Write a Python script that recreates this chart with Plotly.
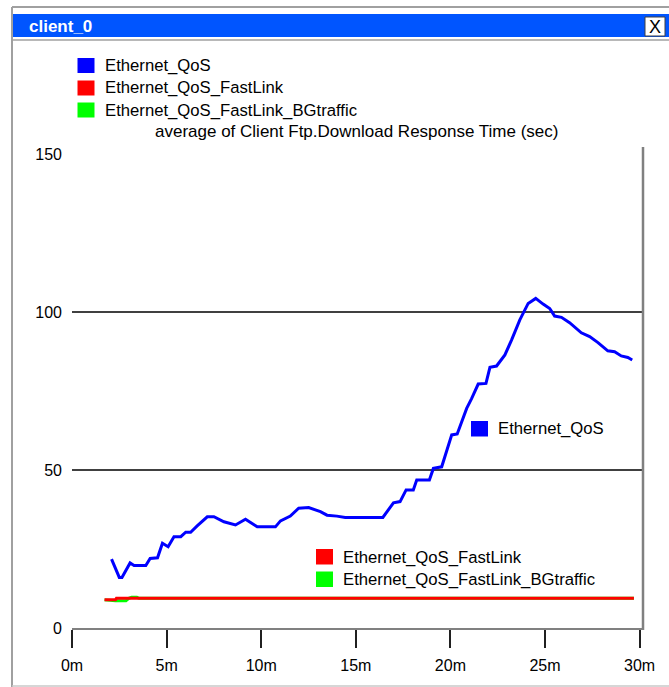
import plotly.graph_objects as go

# ---- data ----
series_names = ["Ethernet_QoS", "Ethernet_QoS_FastLink", "Ethernet_QoS_FastLink_BGtraffic"]
series_colors = ["#0000ff", "#ff0000", "#00ff00"]

qos_min = [2.09, 2.5, 2.64, 3.07, 3.28, 3.9, 4.13, 4.52, 4.78, 5.08, 5.39, 5.75, 6.01,
           6.27, 6.63, 7.15, 7.5, 8.03, 8.64, 9.17, 9.79, 10.75, 11.02, 11.54, 11.98,
           12.51, 13.13, 13.48, 14.0, 14.44, 16.43, 16.99, 17.34, 17.66, 18.04, 18.22,
           18.89, 19.1, 19.54, 19.8, 20.07, 20.36, 20.86, 21.12, 21.47, 21.88, 22.09,
           22.44, 22.88, 23.23, 23.67, 24.11, 24.51, 24.9, 25.25, 25.51, 25.87, 26.3,
           26.92, 27.36, 27.8, 28.32, 28.68, 29.03, 29.38, 29.61]
qos_sec = [21.8, 16.0, 16.0, 20.6, 19.8, 19.8, 22.0, 22.2, 26.8, 25.7, 28.9, 28.9, 30.3,
           30.3, 32.4, 35.2, 35.2, 33.6, 32.6, 34.4, 32.0, 32.0, 33.9, 35.4, 37.9,
           38.1, 36.8, 35.7, 35.4, 35.0, 35.0, 39.6, 40.0, 43.7, 43.7, 46.8,
           46.8, 50.5, 51.0, 56.3, 61.1, 61.4, 69.5, 72.6, 77.2, 77.4, 82.5,
           82.9, 86.4, 91.1, 97.5, 102.7, 104.3, 102.5, 101.1, 98.7, 98.3, 96.6,
           93.4, 92.2, 90.3, 87.7, 87.4, 86.1, 85.6, 84.8]

fast_min = [1.72, 2.3, 2.35, 29.7]
fast_sec = [8.9, 8.9, 9.4, 9.4]

bg_min = [1.72, 2.3, 2.85, 3.0, 3.15, 3.43, 3.55, 29.7]
bg_sec = [8.9, 8.6, 8.6, 9.4, 9.7, 9.7, 9.4, 9.4]

x_tickvals = [0, 5, 10, 15, 20, 25, 30]
x_ticktext = ["0m", "5m", "10m", "15m", "20m", "25m", "30m"]
y_tickvals = [0, 50, 100, 150]
grid_vals = [50, 100]

title_text = "average of Client Ftp.Download Response Time (sec)"
window_title = "client_0"

# ---- geometry (pixels) ----
W, H = 669, 687
ML, MR, MT, MB = 72, 26, 147, 59
PW, PH = W - ML - MR, H - MT - MB
FONT = "Liberation Sans, Arial, sans-serif"
LABEL_SIZE = 16.7


def px(x):
    return (x - ML) / PW


def py(y):
    return (H - MB - y) / PH


fig = go.Figure()

# draw order: blue, green, red (red sits on top of green)
fig.add_trace(go.Scatter(x=qos_min, y=qos_sec, mode="lines", name=series_names[0],
                         line=dict(color=series_colors[0], width=3)))
fig.add_trace(go.Scatter(x=bg_min, y=bg_sec, mode="lines", name=series_names[2],
                         line=dict(color=series_colors[2], width=3)))
fig.add_trace(go.Scatter(x=fast_min, y=fast_sec, mode="lines", name=series_names[1],
                         line=dict(color=series_colors[1], width=3)))

shapes = []
annotations = []

# horizontal grid lines
for g in grid_vals:
    shapes.append(dict(type="line", xref="paper", yref="y", x0=0, x1=1, y0=g, y1=g,
                       line=dict(color="#000000", width=1.5), layer="below"))

# right frame line of the plot
shapes.append(dict(type="line", xref="paper", yref="paper", x0=1, x1=1, y0=py(630), y1=1,
                   line=dict(color="#808080", width=2.5)))

# window decoration
shapes.append(dict(type="line", xref="paper", yref="paper", x0=px(12), x1=px(669),
                   y0=py(7), y1=py(7), line=dict(color="#a0a0a0", width=2)))
shapes.append(dict(type="line", xref="paper", yref="paper", x0=px(12), x1=px(12),
                   y0=py(7), y1=py(687), line=dict(color="#a0a0a0", width=2)))
shapes.append(dict(type="line", xref="paper", yref="paper", x0=px(12), x1=px(669),
                   y0=py(686), y1=py(686), line=dict(color="#c8c8c8", width=1.5)))
shapes.append(dict(type="rect", xref="paper", yref="paper", x0=px(13), x1=px(669),
                   y0=py(14), y1=py(37), fillcolor="#0055ff", line=dict(width=0)))
shapes.append(dict(type="line", xref="paper", yref="paper", x0=px(13), x1=px(669),
                   y0=py(40), y1=py(40), line=dict(color="#a0a0a0", width=1.5)))
shapes.append(dict(type="rect", xref="paper", yref="paper", x0=px(645), x1=px(665),
                   y0=py(17), y1=py(36), fillcolor="#ffffff",
                   line=dict(color="#404040", width=1)))
annotations.append(dict(xref="paper", yref="paper", x=px(27), y=py(26), xanchor="left",
                        yanchor="middle", text="<b>" + window_title + "</b>", showarrow=False,
                        font=dict(family=FONT, size=17, color="#ffffff")))
annotations.append(dict(xref="paper", yref="paper", x=px(655), y=py(26.5), xanchor="center",
                        yanchor="middle", text="X", showarrow=False,
                        font=dict(family=FONT, size=18, color="#000000")))

# top legend
legend_rows = [65.5, 88, 110]
for name, color, yc in zip(series_names, series_colors, legend_rows):
    shapes.append(dict(type="rect", xref="paper", yref="paper", x0=px(77.5), x1=px(94.5),
                       y0=py(yc - 7.5), y1=py(yc + 7.5), fillcolor=color, line=dict(width=0)))
    annotations.append(dict(xref="paper", yref="paper", x=px(103), y=py(yc), xanchor="left",
                            yanchor="middle", text=name, showarrow=False,
                            font=dict(family=FONT, size=LABEL_SIZE, color="#000000")))

annotations.append(dict(xref="paper", yref="paper", x=px(356.5), y=py(131.5), xanchor="center",
                        yanchor="middle", text=title_text, showarrow=False,
                        font=dict(family=FONT, size=17, color="#000000")))

# inline labels
inline = [(0, 471, 429), (1, 316, 557), (2, 316, 579.5)]
for i, x0, yc in inline:
    shapes.append(dict(type="rect", xref="paper", yref="paper", x0=px(x0), x1=px(x0 + 17),
                       y0=py(yc - 8), y1=py(yc + 7.5), fillcolor=series_colors[i],
                       line=dict(width=0)))
    annotations.append(dict(xref="paper", yref="paper", x=px(x0 + 25), y=py(yc),
                            xanchor="left", yanchor="middle", text=series_names[i],
                            showarrow=False,
                            font=dict(family=FONT, size=LABEL_SIZE, color="#000000")))

fig.update_layout(
    width=W, height=H,
    margin=dict(l=ML, r=MR, t=MT, b=MB, pad=0),
    paper_bgcolor="#ffffff",
    plot_bgcolor="#ffffff",
    showlegend=False,
    shapes=shapes,
    annotations=annotations,
    font=dict(family=FONT, size=16, color="#000000"),
)
fig.update_xaxes(range=[0, 30.18], tickvals=x_tickvals, ticktext=x_ticktext,
                 showgrid=False, zeroline=False, showline=True, linecolor="#808080",
                 linewidth=2, ticks="outside", ticklen=18, tickwidth=1.5,
                 tickcolor="#202020", ticklabelstandoff=4, tickfont=dict(family=FONT, size=16))
fig.update_yaxes(range=[0, 152.2], tickvals=y_tickvals, showgrid=False, zeroline=False,
                 showline=False, ticks="", ticklabelstandoff=9,
                 tickfont=dict(family=FONT, size=16))

fig.write_html("out.html", config={"displayModeBar": False},
               post_script="document.body.style.margin='0';document.body.style.overflow='hidden';")
